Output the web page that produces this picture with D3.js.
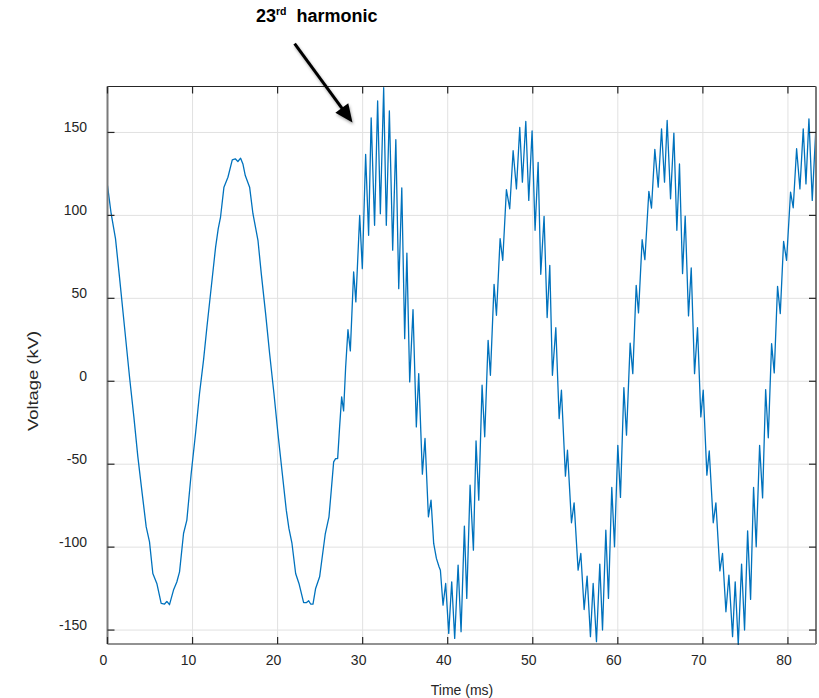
<!DOCTYPE html>
<html>
<head>
<meta charset="utf-8">
<script src="https://cdn.jsdelivr.net/npm/d3@7"></script>
<style>
  html, body { margin: 0; padding: 0; background: #fff; }
  svg { display: block; }
  text { font-family: "Liberation Sans", Arial, Helvetica, sans-serif; fill: #262626; }
</style>
</head>
<body>
<svg id="chart" width="819" height="698"></svg>
<script>
// ---- data ----
const xTicks = [0, 10, 20, 30, 40, 50, 60, 70, 80];
const yTicks = [-150, -100, -50, 0, 50, 100, 150];
const xTitle = "Time (ms)";
const yTitle = "Voltage (kV)";

const timeMs = [
  0, 0.43, 0.94, 1.41, 2.0, 2.59, 3.1, 3.57, 4.08, 4.55, 4.94, 5.33, 5.8, 6.31, 6.71, 6.98, 7.29, 7.76, 8.15,
  8.47, 8.94, 9.33, 9.84, 10.35, 10.82, 11.29, 11.69, 12.2, 12.71, 13.02, 13.29, 13.69, 14.16, 14.67, 15.02, 15.33, 15.65, 15.92,
  16.2, 16.71, 17.1, 17.69, 18.08, 18.59, 19.06, 19.57, 20.04, 20.55, 21.02, 21.33, 21.69, 22.12, 22.51, 23.06, 23.37, 23.65,
  23.88, 24.16, 24.47, 24.94, 25.25, 25.61, 26.04, 26.31, 26.59, 26.82, 27.06, 27.29, 27.53, 27.76, 28.0, 28.27, 28.55,
  28.94, 29.2, 29.65, 29.96, 30.35, 30.7, 31.0, 31.4, 31.76, 32.08, 32.47, 32.78, 33.14, 33.53, 33.9, 34.24, 34.6, 34.94, 35.2,
  35.53, 35.92, 36.31, 36.59, 37.02, 37.33, 37.73, 38.04, 38.35, 38.67, 38.98, 39.14, 39.45, 39.76, 40.12, 40.47, 40.82,
  41.22, 41.57, 41.96, 42.24, 42.63, 43.02, 43.33, 43.65, 44.04, 44.35, 44.75, 45.02, 45.45, 45.73, 46.16, 46.47, 46.9,
  47.29, 47.69, 48.08, 48.47, 48.78, 49.18, 49.53, 49.92, 50.27, 50.63, 50.94, 51.33, 51.69, 52.0, 52.31, 52.71, 53.1,
  53.37, 53.84, 54.08, 54.55, 54.86, 55.33, 55.65, 56.04, 56.39, 56.78, 57.1, 57.49, 57.88, 58.2, 58.59, 58.9, 59.29,
  59.61, 60.0, 60.31, 60.71, 61.02, 61.45, 61.76, 62.16, 62.43, 62.86, 63.18, 63.65, 63.96, 64.35, 64.75, 65.14, 65.49,
  65.8, 66.2, 66.59, 66.94, 67.25, 67.61, 67.92, 68.31, 68.63, 69.02, 69.37, 69.76, 70.04, 70.47, 70.75, 71.22, 71.53,
  72.0, 72.31, 72.71, 73.06, 73.49, 73.8, 74.16, 74.55, 74.9, 75.26, 75.61, 75.96, 76.27, 76.67, 77.02, 77.38, 77.69,
  78.08, 78.39, 78.78, 79.1, 79.49, 79.84, 80.31, 80.62, 81.02, 81.41, 81.8, 82.12, 82.47, 82.86, 83.25
];
const voltageKV = [
  118, 101, 86, 62.8, 32.7, 2.6, -21.5, -45.6, -67.7, -87.8, -96.8, -115.9, -121.9, -133.9, -134.3, -132.7, -134.7, -125.9, -121,
  -114.9, -91.8, -83.7, -55.6, -31.5, -7.4, 12.7, 32.7, 56.8, 80.9, 92, 99, 117, 123, 133.5, 134.1, 132.5, 134.5, 131,
  124, 117, 101, 85, 64.9, 40.8, 16.7, -7.4, -31.5, -55.6, -77.7, -88.7, -97.8, -115.9, -121.9, -133.5, -133.5, -132.3,
  -134.3, -134.3, -124.9, -117.9, -105.8, -91.8, -81.7, -65.7, -48.6, -46.6, -46.6, -27.5, -9.4, -17.9, 8.6, 31.1, 18.3,
  65.9, 47.8, 100, 67.9, 136.7, 88, 158.8, 94, 169, 101, 177, 94, 163, 79, 145.6, 55.8, 116.6, 25.7, 77.3,
  -0.4, 43.2, -27.5, 4.6, -56, -34.5, -81.7, -71.7, -97.8, -106.8, -111.8, -113.9, -135, -121.9, -152, -120.9, -155,
  -110.8, -151, -87.3, -130.9, -62.7, -101.8, -36, -71.7, -2.4, -33.5, 24.7, 3.6, 58.4, 39.8, 86, 72.9, 115.5,
  104, 139, 116, 153, 120, 156.6, 109, 151, 91, 132, 64.5, 99.4, 38.4, 69.9, 3.6, 32.3, -22.5,
  -5.4, -57.2, -41.6, -85.3, -73.3, -113.9, -103.8, -137.6, -117.5, -154, -121.9, -157, -110.2, -150, -89.8, -130.9, -64,
  -99.8, -38.6, -70, -3.8, -32.5, 23, 4.6, 57.8, 41.2, 85.3, 73.3, 114.5, 104.4, 139.8, 117, 152.2, 120,
  157.2, 110, 149.6, 91, 131, 64.9, 99.6, 39.4, 68.3, 4.6, 32.3, -21.5, -5.4, -56.6, -42, -85.3, -73.3,
  -114.3, -103.8, -139, -116.9, -154, -120.9, -159, -110.2, -150, -90.2, -131.5, -64, -99.8, -38.6, -70.3, -5, -34.1,
  22.7, 5, 57.2, 40.8, 84.3, 72.9, 114, 104.6, 140.2, 116, 152.2, 119, 158.2, 109, 149
];
const xDomain = [0, 83.3];
const yDomain = [-158.4, 177.7];

// ---- layout ----
const svg = d3.select("#chart");
const L = 107.5, R = 816, T = 86.5, B = 644;
const x = d3.scaleLinear().domain(xDomain).range([L, R]);
const y = d3.scaleLinear().domain(yDomain).range([B, T]);

const data = timeMs.map((t, i) => ({ t, v: voltageKV[i] }));

// grid
const grid = svg.append("g");
grid.selectAll(".gx").data(xTicks).join("line")
  .attr("x1", d => x(d)).attr("x2", d => x(d)).attr("y1", T).attr("y2", B)
  .attr("stroke", "#e1e1e1").attr("stroke-width", 1);
grid.selectAll(".gy").data(yTicks).join("line")
  .attr("x1", L).attr("x2", R).attr("y1", d => y(d)).attr("y2", d => y(d))
  .attr("stroke", "#e1e1e1").attr("stroke-width", 1);

// clip
svg.append("clipPath").attr("id", "clip").append("rect")
  .attr("x", L).attr("y", T - 1).attr("width", R - L).attr("height", B - T + 2);

// series
const line = d3.line().x(d => x(d.t)).y(d => y(d.v));
svg.append("path").datum(data)
  .attr("clip-path", "url(#clip)")
  .attr("fill", "none").attr("stroke", "#0072BD").attr("stroke-width", 1.3)
  .attr("stroke-linejoin", "round")
  .attr("d", line);

// axes box
svg.append("line").attr("x1", L).attr("x2", R).attr("y1", T).attr("y2", T).attr("stroke", "#262626").attr("stroke-width", 1.2);
svg.append("line").attr("x1", L).attr("x2", R).attr("y1", B).attr("y2", B).attr("stroke", "#262626").attr("stroke-width", 1.2);
svg.append("line").attr("x1", L).attr("x2", L).attr("y1", T).attr("y2", B).attr("stroke", "#7a7a7a").attr("stroke-width", 2);
svg.append("line").attr("x1", R).attr("x2", R).attr("y1", T).attr("y2", B).attr("stroke", "#7a7a7a").attr("stroke-width", 2);

// inward ticks
const tk = 7;
const ticks = svg.append("g").attr("stroke", "#262626").attr("stroke-width", 1.2);
ticks.selectAll(".tb").data(xTicks).join("line")
  .attr("x1", d => x(d)).attr("x2", d => x(d)).attr("y1", B).attr("y2", B - tk);
ticks.selectAll(".tt").data(xTicks).join("line")
  .attr("x1", d => x(d)).attr("x2", d => x(d)).attr("y1", T).attr("y2", T + tk);
ticks.selectAll(".tl").data(yTicks).join("line")
  .attr("x1", L).attr("x2", L + tk).attr("y1", d => y(d)).attr("y2", d => y(d));
ticks.selectAll(".tr").data(yTicks).join("line")
  .attr("x1", R).attr("x2", R - tk).attr("y1", d => y(d)).attr("y2", d => y(d));

// tick labels
svg.append("g").selectAll("text").data(xTicks).join("text")
  .attr("x", d => x(d) - 4).attr("y", 665)
  .attr("text-anchor", "middle").attr("font-size", 14)
  .text(d => d);
svg.append("g").selectAll("text").data(yTicks).join("text")
  .attr("x", 87).attr("y", d => y(d) - 5)
  .attr("dy", "0.36em")
  .attr("text-anchor", "end").attr("font-size", 14)
  .text(d => d);

// axis titles
svg.append("text").attr("x", 462).attr("y", 695).attr("text-anchor", "middle")
  .attr("font-size", 14).text(xTitle);
svg.append("text").attr("transform", "translate(38,381) rotate(-90)")
  .attr("text-anchor", "middle").attr("font-size", 14)
  .attr("textLength", 100).attr("lengthAdjust", "spacingAndGlyphs")
  .text(yTitle);

// annotation
const ann = svg.append("text").attr("x", 256).attr("y", 22)
  .attr("font-family", "Lato, 'Open Sans', sans-serif").attr("font-weight", "bold")
  .attr("font-size", 18).style("fill", "#000");
ann.append("tspan").text("23");
ann.append("tspan").attr("font-size", 10.5).attr("dy", -7).text("rd");
ann.append("tspan").attr("dy", 7).text("\u00a0 harmonic");

const defs = svg.append("defs");
const f = defs.append("filter").attr("id", "shadow").attr("x", "-50%").attr("y", "-50%").attr("width", "200%").attr("height", "200%");
f.append("feDropShadow").attr("dx", 1).attr("dy", 2).attr("stdDeviation", 1.5).attr("flood-color", "#000").attr("flood-opacity", 0.35);

const tail = [x(22.0), y(203.5)];
const tip = [x(28.8), y(156)];
const ang = Math.atan2(tip[1] - tail[1], tip[0] - tail[0]);
const hl = 18, hw = 8;
const base = [tip[0] - hl * Math.cos(ang), tip[1] - hl * Math.sin(ang)];
const g = svg.append("g").attr("filter", "url(#shadow)");
g.append("line").attr("x1", tail[0]).attr("y1", tail[1]).attr("x2", base[0] + 2 * Math.cos(ang)).attr("y2", base[1] + 2 * Math.sin(ang))
  .attr("stroke", "#000").attr("stroke-width", 3);
g.append("polygon").attr("points", [
  tip,
  [base[0] + hw * Math.sin(ang), base[1] - hw * Math.cos(ang)],
  [base[0] - hw * Math.sin(ang), base[1] + hw * Math.cos(ang)]
].map(p => p.join(",")).join(" ")).attr("fill", "#000");
</script>
</body>
</html>
